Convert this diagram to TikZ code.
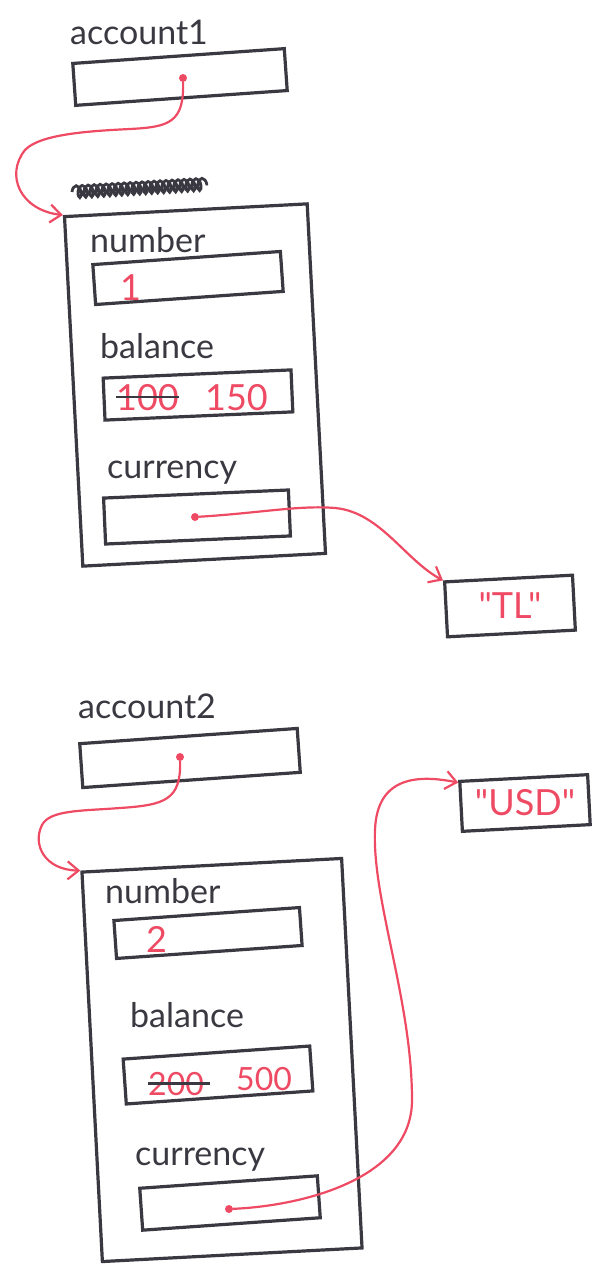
\documentclass[tikz,border=0pt]{standalone}
\usepackage{fontspec}
\setmainfont{Lato}[Ligatures=TeXOff]
\usepackage{tikz}
\usetikzlibrary{arrows.meta,positioning,decorations.pathmorphing}
\definecolor{penink}{HTML}{3A3840}
\definecolor{penred}{HTML}{EE4A63}
\tikzset{
  slotBox/.style={draw=penink, line width=3.2pt, rotate=4, inner sep=0pt},
  objBox/.style={draw=penink, line width=3.2pt, rotate=3, inner sep=0pt},
  handLabel/.style={anchor=base west, text=penink, font=\fontsize{34}{38}\selectfont, inner sep=0pt},
  redValue/.style={anchor=base west, text=penred, font=\fontsize{36}{40}\selectfont, inner sep=0pt},
  refDot/.style={circle, fill=penred, inner sep=0pt, minimum size=8pt},
  refArrow/.style={-{Straight Barb[length=11pt, width=18pt]}, draw=penred, line width=2.2pt},
  strikeLine/.style={draw=penink, line width=2.4pt},
  scribble/.style={draw=penink, line width=2.8pt, decorate, decoration={coil, aspect=0.5, segment length=6pt, amplitude=6pt}}
}

\begin{document}
\begin{tikzpicture}[x=1pt, y=-1pt]
  \useasboundingbox (0,0) rectangle (603,1265);

  % account1 and its object
  \node[handLabel] (acc1label) at (70,45) {account1};
  \node[slotBox, minimum width=212pt, minimum height=42pt] (acc1) at (180,77) {};
  \node[refDot] (ptr1) at (183,78) {};
  \coordinate (scrA) at (72,192);
  \coordinate (scrB) at (208,184);
  \draw[scribble] (scrA) -- (scrB);
  \node[objBox, minimum width=243pt, minimum height=350pt] (obj1) at (195,385) {};
  \node[handLabel] (num1label) at (90,252) {number};
  \node[slotBox, minimum width=188pt, minimum height=40pt] (num1) at (188,278) {};
  \node[redValue] (num1val) at (120,300) {1};
  \node[handLabel] (bal1label) at (100,358) {balance};
  \node[slotBox, rotate=-1.5, minimum width=188pt, minimum height=42pt] (bal1) at (198,395) {};
  \node[redValue] (old1) at (116,410) {100};
  \node[redValue] (new1) at (205,410) {150};
  \draw[strikeLine] (old1.west) -- (old1.east);
  \node[handLabel] (cur1label) at (107,478) {currency};
  \node[slotBox, rotate=-1.5, minimum width=185pt, minimum height=46pt] (cur1) at (197,517) {};
  \node[refDot] (ptr2) at (195,517) {};
  \node[slotBox, rotate=-1, minimum width=128pt, minimum height=55pt] (tl) at (510,606) {};
  \node[redValue, anchor=center] (tlval) at (tl) {"TL"};

  \draw[refArrow] (ptr1) .. controls (184,122) and (170,127) .. (130,129)
    .. controls (90,131) and (40,134) .. (25,150)
    .. controls (5,175) and (20,210) .. (obj1.north west);
  \draw[refArrow] (ptr2) .. controls (260,513) and (300,505) .. (335,508)
    .. controls (380,512) and (405,560) .. (tl.north west);

  % account2 and its object
  \node[handLabel] (acc2label) at (78,718) {account2};
  \node[slotBox, minimum width=218pt, minimum height=44pt] (acc2) at (190,758) {};
  \node[refDot] (ptr3) at (180,757) {};
  \node[objBox, minimum width=260pt, minimum height=390pt] (obj2) at (222,1060) {};
  \node[handLabel] (num2label) at (105,903) {number};
  \node[slotBox, minimum width=186pt, minimum height=38pt] (num2) at (208,933) {};
  \node[redValue] (num2val) at (146,952) {2};
  \node[handLabel] (bal2label) at (130,1027) {balance};
  \node[slotBox, minimum width=187pt, minimum height=45pt] (bal2) at (218,1075) {};
  \node[redValue, font=\fontsize{32}{36}\selectfont] (old2) at (148,1095) {200};
  \node[redValue, font=\fontsize{32}{36}\selectfont] (new2) at (236,1090) {500};
  \draw[strikeLine] (old2.west) -- ([xshift=6pt]old2.east);
  \node[handLabel] (cur2label) at (135,1165) {currency};
  \node[slotBox, minimum width=178pt, minimum height=42pt] (cur2) at (230,1203) {};
  \node[refDot] (ptr4) at (229,1209) {};
  \node[slotBox, rotate=-1, minimum width=128pt, minimum height=50pt] (usd) at (525,803) {};
  \node[redValue, anchor=center] (usdval) at (usd) {"USD"};

  \draw[refArrow] (ptr3) .. controls (181,800) and (165,805) .. (120,808)
    .. controls (80,811) and (50,810) .. (42,825)
    .. controls (32,845) and (45,870) .. (obj2.north west);
  \draw[refArrow] (ptr4) .. controls (300,1206) and (412,1180) .. (412,1100)
    .. controls (412,1000) and (372,900) .. (375,830)
    .. controls (377,775) and (420,775) .. (usd.160);
\end{tikzpicture}
\end{document}
